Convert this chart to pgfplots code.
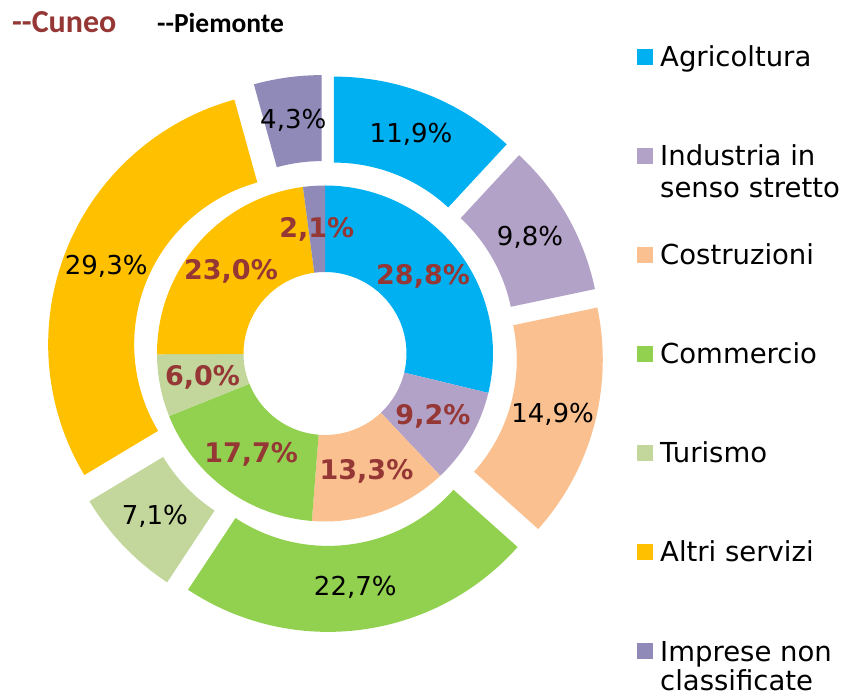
\documentclass[border=0pt]{standalone}
\usepackage{pgfplots}
\pgfplotsset{compat=1.18}
\usepackage{pgfplotstable}
\usepackage{fontspec}
\setmainfont{DejaVu Sans}
\newfontfamily\titlefont{Carlito}

\definecolor{c1}{HTML}{00B0F0}
\definecolor{c2}{HTML}{B3A2C7}
\definecolor{c3}{HTML}{FAC090}
\definecolor{c4}{HTML}{92D050}
\definecolor{c5}{HTML}{C3D69B}
\definecolor{c6}{HTML}{FFC000}
\definecolor{c7}{HTML}{8F8AB8}
\definecolor{cuneored}{HTML}{953735}

% Cuneo (inner ring)
\pgfplotstableread{
id val
1 28.8
2 9.2
3 13.3
4 17.7
5 6.0
6 23.0
7 2.1
}\cuneo
% Piemonte (outer ring)
\pgfplotstableread{
id val
1 11.9
2 9.8
3 14.9
4 22.7
5 7.1
6 29.3
7 4.3
}\piemonte

\tikzset{
  inlab/.style={font=\fontsize{27}{30}\selectfont\bfseries, text=cuneored},
  outlab/.style={font=\fontsize{26}{30}\selectfont, text=black},
  leg/.style={font=\fontsize{27.5}{32}\selectfont, anchor=base west, inner sep=0pt},
}

% #1 table, #2 inner radius, #3 outer radius, #4 explosion, #5 label style
\newcommand\drawring[5]{%
  \pgfplotstablegetrowsof{#1}%
  \pgfmathtruncatemacro\nlast{\pgfplotsretval-1}%
  \def\tot{0}%
  \pgfplotsforeachungrouped \i in {0,...,\nlast}{%
    \pgfplotstablegetelem{\i}{val}\of{#1}%
    \pgfmathsetmacro\tot{\tot+\pgfplotsretval}%
  }%
  \def\cum{0}%
  \pgfplotsforeachungrouped \i in {0,...,\nlast}{%
    \pgfplotstablegetelem{\i}{val}\of{#1}%
    \let\v\pgfplotsretval
    \pgfmathsetmacro\a{90-360*(\cum/\tot)}%
    \pgfmathsetmacro\cum{\cum+\v}%
    \pgfmathsetmacro\b{90-360*(\cum/\tot)}%
    \pgfmathsetmacro\m{(\a+\b)/2}%
    \pgfmathsetmacro\sx{#4*cos(\m)}%
    \pgfmathsetmacro\sy{#4*sin(\m)}%
    \pgfmathsetmacro\pxa{\sx+#2*cos(\a)}%
    \pgfmathsetmacro\pya{\sy+#2*sin(\a)}%
    \pgfmathsetmacro\pxb{\sx+#3*cos(\b)}%
    \pgfmathsetmacro\pyb{\sy+#3*sin(\b)}%
    \pgfmathsetmacro\lx{\sx+(#2+#3)/2*cos(\m)}%
    \pgfmathsetmacro\ly{\sy+(#2+#3)/2*sin(\m)}%
    \pgfmathtruncatemacro\k{\i+1}%
    \edef\cmd{\noexpand\fill[c\k] (axis cs:\pxa,\pya) arc[start angle=\a, end angle=\b, radius=#2pt] -- (axis cs:\pxb,\pyb) arc[start angle=\b, end angle=\a, radius=#3pt] -- cycle;
      \noexpand\node[#5] at (axis cs:\lx,\ly) {\noexpand\pgfmathprintnumber[fixed,fixed zerofill,precision=1,use comma,assume math mode=true]{\v}\noexpand\%};}%
    \cmd
  }%
}

\begin{document}
\begin{tikzpicture}
\begin{axis}[
  hide axis, scale only axis, clip=false,
  x=1pt, y=1pt,
  xmin=-325, xmax=522, ymin=-343.5, ymax=353.5,
]
\coordinate (bl) at (axis cs:-325,-343.5);
\coordinate (tr) at (axis cs:522,353.5);
\drawring{\cuneo}{81.5}{168}{0}{inlab}
\drawring{\piemonte}{168}{254}{24.6}{outlab}

% titles
\node[anchor=base west, inner sep=0pt, text=cuneored, font=\titlefont\bfseries\fontsize{32}{38}\selectfont] at (axis cs:-313,320.5) {-{}-Cuneo};
\node[anchor=base west, inner sep=0pt, text=black, font=\titlefont\bfseries\fontsize{27.5}{32}\selectfont] at (axis cs:-168,320.5) {-{}-Piemonte};

% legend
\fill[c1] (axis cs:312,288.5) rectangle (axis cs:328,304.5);
\node[leg] at (axis cs:335,286.5) {Agricoltura};
\fill[c2] (axis cs:312,189.5) rectangle (axis cs:328,205.5);
\node[leg] at (axis cs:335,187.5) {Industria in};
\node[leg] at (axis cs:335,155.5) {senso stretto};
\fill[c3] (axis cs:312,90.5) rectangle (axis cs:328,106.5);
\node[leg] at (axis cs:335,88.5) {Costruzioni};
\fill[c4] (axis cs:312,-8.5) rectangle (axis cs:328,7.5);
\node[leg] at (axis cs:335,-10.5) {Commercio};
\fill[c5] (axis cs:312,-107.5) rectangle (axis cs:328,-91.5);
\node[leg] at (axis cs:335,-109.5) {Turismo};
\fill[c6] (axis cs:312,-206.5) rectangle (axis cs:328,-190.5);
\node[leg] at (axis cs:335,-208.5) {Altri servizi};
\fill[c7] (axis cs:312,-305.5) rectangle (axis cs:328,-289.5);
\node[leg] at (axis cs:335,-307.5) {Imprese non};
\node[leg] at (axis cs:335,-337.5) {classificate};
\end{axis}
\pgfresetboundingbox
\path (bl) rectangle (tr);
\end{tikzpicture}
\end{document}
